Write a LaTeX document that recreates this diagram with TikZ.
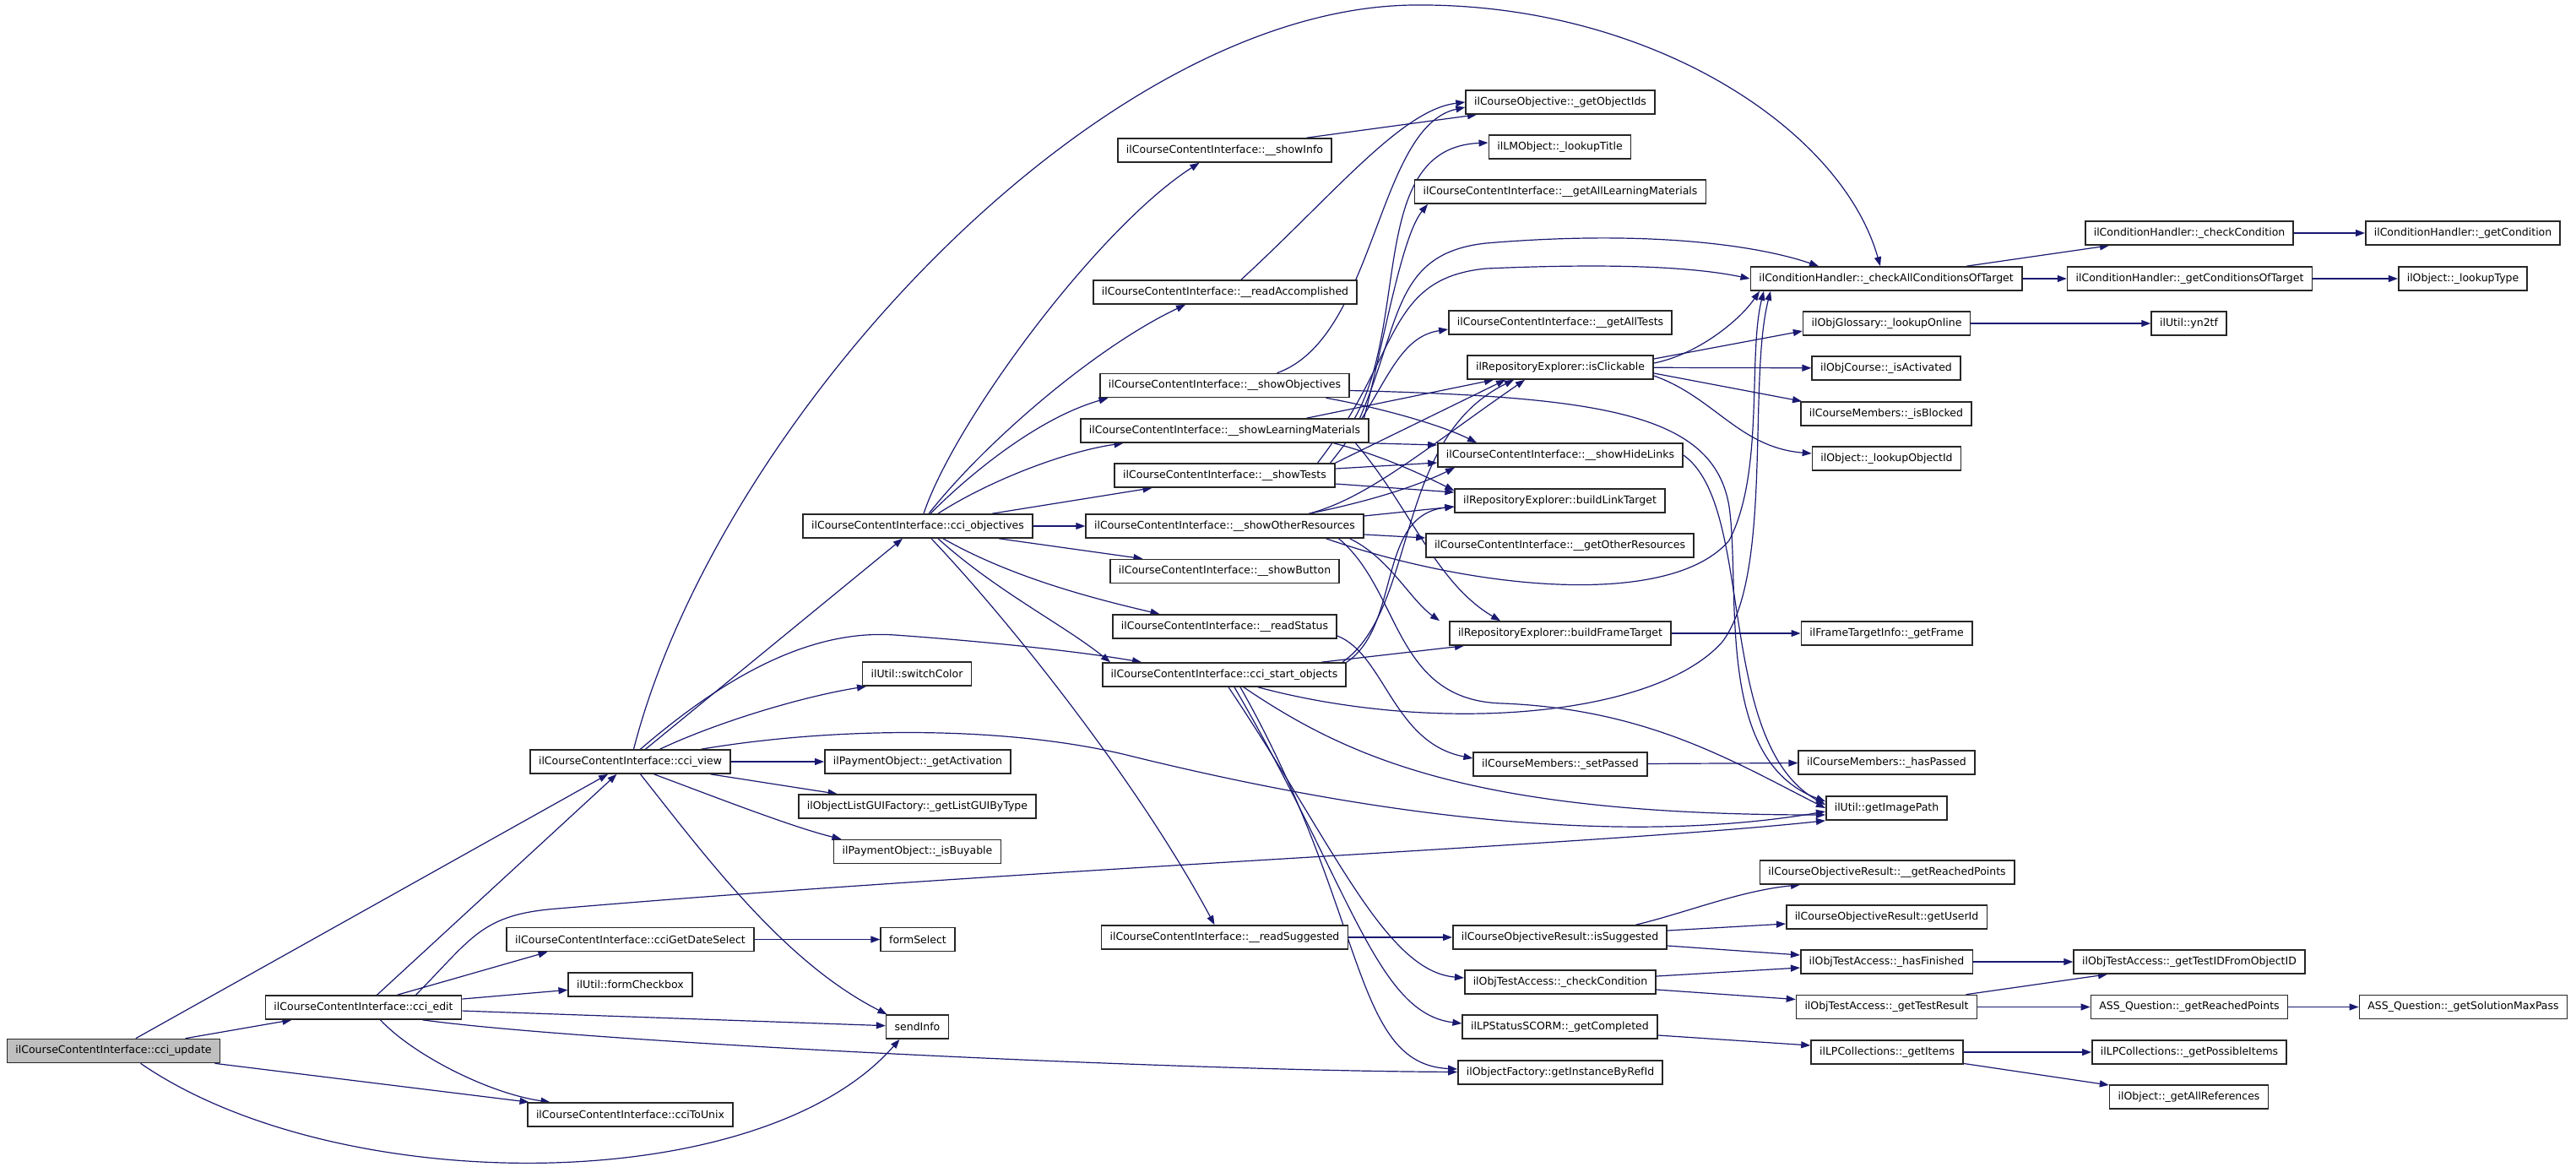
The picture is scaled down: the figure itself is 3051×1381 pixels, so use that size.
\documentclass[tikz,border=0pt]{standalone}
\usepackage{fontspec}
\setmainfont{DejaVu Sans}
\usetikzlibrary{arrows.meta,backgrounds}
\definecolor{edgeblue}{HTML}{191970}
\definecolor{rootgray}{HTML}{BFBFBF}
\tikzset{
    fn/.style={draw=black!85,line width=1.6pt,fill=white,minimum height=28pt,
        inner xsep=10pt,inner ysep=0pt,font=\fontsize{12.5}{15}\selectfont},
    call/.style={draw=edgeblue,line width=1.2pt,
        -{Triangle[length=11pt,width=8pt]},edgeblue}
}

\begin{document}
\begin{tikzpicture}[x=1pt,y=-1pt]
    \useasboundingbox (0,0) rectangle (3051,1381);
    % callers
    \node[fn,fill=rootgray] (upd) at (134.5,1244.5) {ilCourseContentInterface::cci\_update};
    \node[fn] (edit) at (430.5,1193) {ilCourseContentInterface::cci\_edit};
    \node[fn] (view) at (746.5,902) {ilCourseContentInterface::cci\_view};
    \node[fn] (dsel) at (746.5,1112.5) {ilCourseContentInterface::cciGetDateSelect};
    \node[fn] (chk) at (746.5,1166) {ilUtil::formCheckbox};
    \node[fn] (unix) at (746.5,1320) {ilCourseContentInterface::cciToUnix};
    \node[fn] (act) at (1087,902) {ilPaymentObject::\_getActivation};
    \node[fn] (lgui) at (1086.5,955) {ilObjectListGUIFactory::\_getListGUIByType};
    \node[fn] (buy) at (1086.5,1008.5) {ilPaymentObject::\_isBuyable};
    \node[fn] (fsel) at (1087,1112.5) {formSelect};
    \node[fn] (info) at (1086.5,1216) {sendInfo};
    \node[fn] (swc) at (1086,798) {ilUtil::switchColor};
    \node[fn] (obj) at (1087,623) {ilCourseContentInterface::cci\_objectives};
    \node[fn] (sinfo) at (1450.5,178) {ilCourseContentInterface::\_\_showInfo};
    \node[fn] (racc) at (1451,346) {ilCourseContentInterface::\_\_readAccomplished};
    \node[fn] (sobj) at (1450.5,456.5) {ilCourseContentInterface::\_\_showObjectives};
    \node[fn] (slm) at (1450.5,510) {ilCourseContentInterface::\_\_showLearningMaterials};
    \node[fn] (stst) at (1450.5,563) {ilCourseContentInterface::\_\_showTests};
    \node[fn] (sor) at (1450.5,623) {ilCourseContentInterface::\_\_showOtherResources};
    \node[fn] (sbtn) at (1450.5,676.5) {ilCourseContentInterface::\_\_showButton};
    \node[fn] (rst) at (1450.5,742) {ilCourseContentInterface::\_\_readStatus};
    \node[fn] (sta) at (1450,799) {ilCourseContentInterface::cci\_start\_objects};
    \node[fn] (rsug) at (1450.5,1110) {ilCourseContentInterface::\_\_readSuggested};
    % callees
    \node[fn] (oids) at (1848,121) {ilCourseObjective::\_getObjectIds};
    \node[fn] (ltit) at (1847.5,174) {ilLMObject::\_lookupTitle};
    \node[fn] (galm) at (1848,227) {ilCourseContentInterface::\_\_getAllLearningMaterials};
    \node[fn] (gat) at (1848,382) {ilCourseContentInterface::\_\_getAllTests};
    \node[fn] (clk) at (1848,435) {ilRepositoryExplorer::isClickable};
    \node[fn] (shl) at (1848,539) {ilCourseContentInterface::\_\_showHideLinks};
    \node[fn] (blt) at (1847.5,593) {ilRepositoryExplorer::buildLinkTarget};
    \node[fn] (gor) at (1847.5,646) {ilCourseContentInterface::\_\_getOtherResources};
    \node[fn] (bft) at (1848,750) {ilRepositoryExplorer::buildFrameTarget};
    \node[fn] (spas) at (1848,905) {ilCourseMembers::\_setPassed};
    \node[fn] (isug) at (1847.5,1110) {ilCourseObjectiveResult::isSuggested};
    \node[fn] (otchk) at (1848,1163) {ilObjTestAccess::\_checkCondition};
    \node[fn] (gcomp) at (1847.5,1216) {ilLPStatusSCORM::\_getCompleted};
    \node[fn] (ginst) at (1848,1270) {ilObjectFactory::getInstanceByRefId};
    \node[fn] (cat) at (2234,330) {ilConditionHandler::\_checkAllConditionsOfTarget};
    \node[fn] (look) at (2234.5,383) {ilObjGlossary::\_lookupOnline};
    \node[fn] (isact) at (2234,436) {ilObjCourse::\_isActivated};
    \node[fn] (blk) at (2234,490) {ilCourseMembers::\_isBlocked};
    \node[fn] (loid) at (2234.5,543) {ilObject::\_lookupObjectId};
    \node[fn] (gfr) at (2234.5,750) {ilFrameTargetInfo::\_getFrame};
    \node[fn] (hpas) at (2234.5,903) {ilCourseMembers::\_hasPassed};
    \node[fn] (img) at (2234.5,957) {ilUtil::getImagePath};
    \node[fn] (grp) at (2235,1033) {ilCourseObjectiveResult::\_\_getReachedPoints};
    \node[fn] (uid) at (2234.5,1086) {ilCourseObjectiveResult::getUserId};
    \node[fn] (hfin) at (2234.5,1139) {ilObjTestAccess::\_hasFinished};
    \node[fn] (gtr) at (2234.5,1192.5) {ilObjTestAccess::\_getTestResult};
    \node[fn] (gitm) at (2235,1246) {ilLPCollections::\_getItems};
    \node[fn] (chc) at (2593,276) {ilConditionHandler::\_checkCondition};
    \node[fn] (gcot) at (2593.5,330) {ilConditionHandler::\_getConditionsOfTarget};
    \node[fn] (yn) at (2592.5,383) {ilUtil::yn2tf};
    \node[fn] (tid) at (2593,1139) {ilObjTestAccess::\_getTestIDFromObjectID};
    \node[fn] (aqrp) at (2593,1192.5) {ASS\_Question::\_getReachedPoints};
    \node[fn] (gpi) at (2593,1246) {ilLPCollections::\_getPossibleItems};
    \node[fn] (gar) at (2592.5,1299) {ilObject::\_getAllReferences};
    \node[fn] (gcond) at (2917,276) {ilConditionHandler::\_getCondition};
    \node[fn] (ltyp) at (2917,330) {ilObject::\_lookupType};
    \node[fn] (smp) at (2917.5,1192.5) {ASS\_Question::\_getSolutionMaxPass};

    \begin{scope}[on background layer]
    % cci_update
    \draw[call] (upd) -- (view);
    \draw[call] (upd) -- (edit);
    \draw[call] (upd) -- (unix);
    \draw[call] ([xshift=32pt]upd.south) .. controls (400,1420) and (900,1420) .. ([xshift=-21pt]info.south);
    % cci_edit
    \draw[call] (edit) -- (view);
    \draw[call] ([xshift=40pt]edit.north) -- ([xshift=-98pt]dsel.south);
    \draw[call] (edit) -- (chk);
    \draw[call] (edit) -- (info);
    \draw[call] ([xshift=70pt]edit.south) .. controls (700,1235) and (1400,1268) .. (ginst);
    \draw[call] ([xshift=20pt]edit.south) .. controls (490,1250) and (580,1295) .. ([xshift=-95pt]unix.north);
    \draw[call] ([xshift=62pt]edit.north) .. controls (560,1110) and (570,1083) .. (660,1076)
        .. controls (1200,1030) and (1900,1000) .. (img.south west);
    % cci_view
    \draw[call] (view) -- (obj);
    \draw[call] ([xshift=12pt]view.north) .. controls (860,800) and (960,745) .. (1060,752)
        .. controls (1200,762) and (1300,775) .. ([xshift=-98pt]sta.north);
    \draw[call] ([xshift=35pt]view.north) .. controls (850,855) and (950,825) .. ([xshift=-60pt]swc.south);
    \draw[call] (view) -- (act);
    \draw[call] (view) -- (lgui);
    \draw[call] ([xshift=28pt]view.south) .. controls (850,945) and (940,980) .. ([xshift=-90pt]buy.north);
    \draw[call] ([xshift=12pt]view.south) .. controls (840,1020) and (930,1140) .. ([xshift=-36pt]info.north);
    \draw[call] ([xshift=84pt]view.north) .. controls (980,862) and (1180,858) .. (1330,893)
        .. controls (1600,960) and (1900,1005) .. ([yshift=-4pt]img.west);
    \draw[call] ([xshift=4pt]view.north) .. controls (850,500) and (1300,10) .. (1674,6)
        .. controls (1950,3) and (2180,150) .. ([xshift=-7pt]cat.north);
    \draw[call] (dsel) -- (fsel);
    % cci_objectives
    \draw[call] ([xshift=7pt]obj.north) .. controls (1130,500) and (1300,270) .. ([xshift=-30pt]sinfo.south);
    \draw[call] ([xshift=13pt]obj.north) .. controls (1170,520) and (1300,410) .. ([xshift=-47pt]racc.south);
    \draw[call] ([xshift=15pt]obj.north) .. controls (1150,560) and (1230,495) .. ([xshift=-138pt]sobj.south);
    \draw[call] ([xshift=24pt]obj.north) .. controls (1170,570) and (1260,535) .. ([xshift=-120pt]slm.south);
    \draw[call] ([xshift=88pt]obj.north) -- ([xshift=-86pt]stst.south);
    \draw[call] (obj) -- (sor);
    \draw[call] ([xshift=96pt]obj.south) -- ([xshift=-97pt]sbtn.north);
    \draw[call] ([xshift=30pt]obj.south) .. controls (1200,685) and (1300,710) .. ([xshift=-77pt]rst.north);
    \draw[call] ([xshift=24pt]obj.south) .. controls (1180,700) and (1260,740) .. ([xshift=-135pt]sta.north);
    \draw[call] ([xshift=16pt]obj.south) .. controls (1200,740) and (1350,930) .. ([xshift=-12pt]rsug.north);
    % second rank
    \draw[call] ([xshift=97pt]sinfo.north) -- ([xshift=-99pt]oids.south);
    \draw[call] ([xshift=19pt]racc.north) .. controls (1580,230) and (1660,130) .. (oids.west);
    \draw[call] ([xshift=62pt]sobj.north) .. controls (1630,400) and (1630,150) .. ([yshift=-6pt]oids.west);
    \draw[call] ([xshift=120pt]sobj.south) .. controls (1620,480) and (1700,500) .. ([xshift=-99pt]shl.north);
    \draw[call] ([yshift=-6pt]sobj.east) .. controls (1900,470) and (2030,490) .. (2048,600)
        .. controls (2062,700) and (2030,900) .. ([yshift=8pt]img.west);
    \draw[call] ([xshift=97pt]slm.north) -- ([xshift=-79pt]clk.south);
    \draw[call] ([xshift=154pt]slm.north) .. controls (1670,380) and (1620,175) .. ([yshift=5pt]ltit.west);
    \draw[call] ([xshift=165pt]slm.north) .. controls (1640,400) and (1660,280) .. ([xshift=-157pt]galm.south);
    \draw[call] ([xshift=160pt]slm.north) .. controls (1660,380) and (1650,300) .. (1760,288)
        .. controls (1950,272) and (2080,290) .. ([xshift=-80pt]cat.north);
    \draw[call] (slm.south east) -- ([yshift=12pt]shl.west);
    \draw[call] ([xshift=129pt]slm.south) .. controls (1640,540) and (1690,565) .. ([yshift=12pt]blt.west);
    \draw[call] ([xshift=155pt]slm.south) .. controls (1670,600) and (1700,690) .. ([xshift=-71pt]bft.north);
    \draw[call] (stst.north east) -- ([xshift=-65pt]clk.south);
    \draw[call] ([xshift=125pt]stst.north) .. controls (1640,470) and (1650,400) .. ([yshift=-8pt]gat.west);
    \draw[call] ([xshift=110pt]stst.north) .. controls (1660,420) and (1640,330) .. (1760,318)
        .. controls (1900,312) and (2000,315) .. (cat.west);
    \draw[call] ([yshift=8pt]stst.east) -- ([yshift=-9pt]shl.west);
    \draw[call] ([yshift=-10pt]stst.east) -- ([yshift=10pt]blt.west);
    \draw[call] ([xshift=100pt]sor.north) .. controls (1620,590) and (1690,530) .. ([xshift=-42pt]clk.south);
    \draw[call] ([xshift=100pt]sor.north) .. controls (1640,590) and (1690,570) .. ([xshift=-125pt]shl.south);
    \draw[call] ([yshift=12pt]sor.east) -- ([yshift=-7pt]blt.west);
    \draw[call] ([yshift=-10pt]sor.east) -- ([yshift=9pt]gor.west);
    \draw[call] ([xshift=148pt]sor.south) .. controls (1645,660) and (1670,710) .. ([xshift=-143pt]bft.north);
    \draw[call] ([xshift=120pt]sor.south) .. controls (1750,700) and (1980,720) .. (2048,640)
        .. controls (2090,560) and (2070,420) .. ([xshift=-145pt]cat.south);
    \draw[call] ([xshift=135pt]sor.south) .. controls (1660,700) and (1650,830) .. (1780,833)
        .. controls (1950,840) and (2050,900) .. (img.west);
    \draw[call] ([xshift=115pt]sta.north) -- ([xshift=-114pt]bft.south);
    \draw[call] ([xshift=140pt]sta.north) .. controls (1680,720) and (1650,520) .. ([xshift=-55pt]clk.south);
    \draw[call] ([xshift=145pt]sta.north) .. controls (1660,740) and (1630,610) .. ([yshift=-7pt]blt.west);
    \draw[call] ([xshift=40pt]sta.south) .. controls (1700,870) and (1960,850) .. (2040,760)
        .. controls (2100,680) and (2070,450) .. ([xshift=-137pt]cat.south);
    \draw[call] ([xshift=23pt]sta.south) .. controls (1600,900) and (1750,965) .. ([yshift=-8pt]img.west);
    \draw[call] ([xshift=5pt]sta.south) .. controls (1580,1000) and (1640,1150) .. ([yshift=5pt]otchk.west);
    \draw[call] ([xshift=12pt]sta.south) .. controls (1600,1050) and (1630,1200) .. ([yshift=4pt]gcomp.west);
    \draw[call] ([xshift=19pt]sta.south) .. controls (1620,1080) and (1600,1260) .. ([yshift=4pt]ginst.west);
    \draw[call] ([yshift=-11pt]rst.east) .. controls (1640,775) and (1650,880) .. ([yshift=7pt]spas.west);
    \draw[call] (rsug) -- (isug);
    % right ranks
    \draw[call] (spas) -- (hpas);
    \draw[call] ([xshift=90pt]isug.north) .. controls (2000,1080) and (2060,1055) .. ([xshift=-103pt]grp.south);
    \draw[call] ([yshift=8pt]isug.east) -- ([yshift=-8pt]uid.west);
    \draw[call] ([yshift=-10pt]isug.east) -- ([yshift=8pt]hfin.west);
    \draw[call] ([yshift=7pt]otchk.east) -- ([yshift=-7pt]hfin.west);
    \draw[call] ([yshift=-9pt]otchk.east) -- ([yshift=9pt]gtr.west);
    \draw[call] ([yshift=-10pt]gcomp.east) -- ([yshift=8pt]gitm.west);
    \draw[call] (hfin) -- (tid);
    \draw[call] ([xshift=94pt]gtr.north) -- ([xshift=-97pt]tid.south);
    \draw[call] (gtr) -- (aqrp);
    \draw[call] (aqrp) -- (smp);
    \draw[call] (gitm) -- (gpi);
    \draw[call] (gitm) -- (gar);
    \draw[call] ([yshift=5pt]clk.east) .. controls (2010,420) and (2060,380) .. ([xshift=-150pt]cat.south);
    \draw[call] ([yshift=10pt]clk.east) -- ([yshift=-9pt]look.west);
    \draw[call] (clk) -- (isact);
    \draw[call] ([yshift=-7pt]clk.east) -- ([xshift=-100pt]blk.north);
    \draw[call] ([yshift=-10pt]clk.east) .. controls (2030,470) and (2060,530) .. ([yshift=6pt]loid.west);
    \draw[call] (shl.east) .. controls (2080,600) and (2030,880) .. ([yshift=4pt]img.west);
    \draw[call] (look) -- (yn);
    \draw[call] ([xshift=95pt]cat.north) -- ([xshift=-95pt]chc.south);
    \draw[call] (cat) -- (gcot);
    \draw[call] (chc) -- (gcond);
    \draw[call] (gcot) -- (ltyp);
    \draw[call] (bft) -- (gfr);
    \end{scope}
\end{tikzpicture}
\end{document}
